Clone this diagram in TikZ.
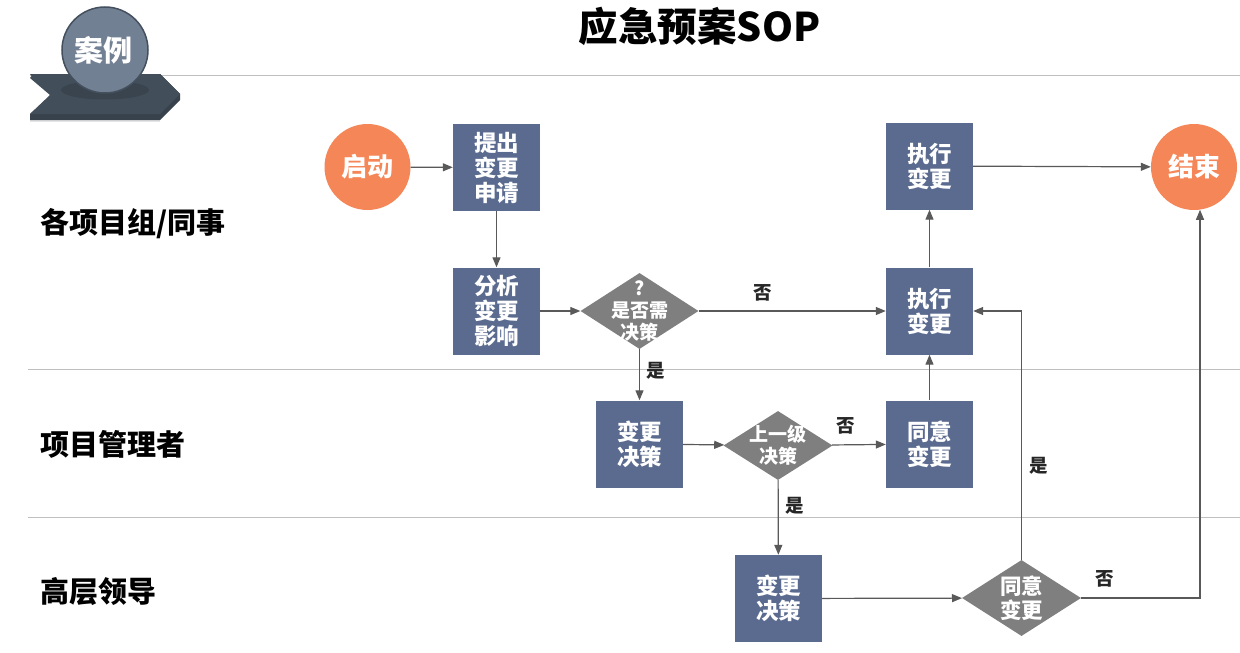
\documentclass[tikz,border=0pt]{standalone}
\usepackage{fontspec}
\setmainfont{Noto Sans CJK SC}
\usetikzlibrary{arrows.meta,shapes.geometric}
\definecolor{boxblue}{HTML}{5A6B8F}
\definecolor{decidegray}{HTML}{7F7F7F}
\definecolor{termorange}{HTML}{F58657}
\definecolor{flowgray}{HTML}{595959}
\definecolor{rulegray}{HTML}{BFBFBF}
\definecolor{badgetop}{HTML}{424E5A}
\definecolor{badgeside}{HTML}{38424D}
\definecolor{badgeshade}{HTML}{3A444F}
\definecolor{badgeball}{HTML}{728094}
\definecolor{badgeline}{HTML}{44505E}
\tikzset{
	stepbox/.style={fill=boxblue, text=white, font=\fontsize{22.5}{25}\selectfont\bfseries, align=center, minimum width=87pt, minimum height=87pt, inner sep=0pt},
	decidebox/.style={diamond, fill=decidegray, inner sep=0pt},
	decidetext/.style 2 args={text=white, font=\fontsize{#1}{#2}\selectfont\bfseries, align=center, inner sep=0pt},
	termnode/.style={circle, fill=termorange, text=white, font=\fontsize{26}{26}\selectfont\bfseries, minimum size=86pt, inner sep=0pt},
	lanetext/.style={anchor=west, font=\fontsize{29}{30}\selectfont\bfseries, inner sep=0pt},
	flowtext/.style={text=black!85, font=\fontsize{18.5}{18}\selectfont\bfseries, inner sep=0pt},
	flow/.style={draw=flowgray, line width=1.2pt, -{Triangle[length=10pt,width=8pt]}}
}
\begin{document}
\begin{tikzpicture}[x=1pt, y=-1pt]
	\useasboundingbox (0,0) rectangle (1240,653);
	% lane rules
	\foreach \y/\xstart in {75/30, 369/28, 517/28}
		\draw[rulegray, line width=0.9pt] (\xstart,\y) -- (1240,\y);
	% badge
	\fill[black!10] (30,120) rectangle (160,121.5);
	\fill[badgeside] (30,74) -- (50,94) -- (50,96) -- (30,114) -- (30,120) -- (160,120) -- (180,100) -- (180,94) -- (160,74) -- cycle;
	\fill[badgetop] (33,74) -- (160,74) -- (180,94) -- (160,114) -- (30,114) -- (50,95) -- (30,78) -- cycle;
	\fill[badgeshade] (105,90) ellipse [x radius=44, y radius=9.5];
	\node[circle, fill=badgeball, draw=badgeline, line width=1.5pt, text=white, font=\fontsize{29}{30}\selectfont\bfseries, minimum size=86pt, inner sep=0pt] (badge) at (105,50) {\kern-3pt案例};
	% title and lanes
	\node[font=\fontsize{39.5}{40}\selectfont\bfseries, inner sep=0pt] (title) at (699.5,26) {应急预案SOP};
	\node[lanetext] (lane1) at (40.5,224) {各项目组/同事};
	\node[lanetext] (lane2) at (40.5,444) {项目管理者};
	\node[lanetext] (lane3) at (40.5,592) {高层领导};
	% nodes
	\node[termnode] (start) at (367.5,167) {启动};
	\node[stepbox] (apply) at (496.5,167.5) {提出\\变更\\申请};
	\node[stepbox] (analyse) at (496.5,311) {分析\\变更\\影响};
	\node[decidebox, minimum width=118pt, minimum height=76pt, label={[decidetext={19}{22}]center:?\\是否需\\决策}] (need) at (639.5,311) {};
	\node[stepbox] (decide1) at (639.5,444) {变更\\决策};
	\node[decidebox, minimum width=109pt, minimum height=69pt, label={[decidetext={19}{22}]center:上一级\\决策}] (upper) at (778,445.5) {};
	\node[stepbox] (agree1) at (929.5,444) {同意\\变更};
	\node[stepbox] (exec2) at (929.5,311) {执行\\变更};
	\node[stepbox] (exec1) at (929.5,166) {执行\\变更};
	\node[termnode] (finish) at (1194,167) {结束};
	\node[stepbox] (decide2) at (778.5,598.5) {变更\\决策};
	\node[decidebox, minimum width=119pt, minimum height=76pt, label={[decidetext={21.5}{24}]center:同意\\变更}] (agree2) at (1021.5,598) {};
	% connectors
	\draw[flow] (start) -- (apply);
	\draw[flow] (apply) -- (analyse);
	\draw[flow] (analyse) -- (need);
	\draw[flow] (need) -- (exec2);
	\draw[flow] (need) -- (decide1);
	\draw[flow] (decide1) -- (upper);
	\draw[flow] (upper) -- (agree1);
	\draw[flow] (upper) -- (decide2);
	\draw[flow] (agree1) -- (exec2);
	\draw[flow] (exec2) -- (exec1);
	\draw[flow] (exec1) -- (finish);
	\draw[flow] (decide2) -- (agree2);
	\draw[flow] (agree2.north) |- (exec2.east);
	\draw[flow] (agree2.east) -| (finish.-82);
	% connector labels
	\node[flowtext] (no1) at (763,293) {否};
	\node[flowtext] (yes1) at (656,371) {是};
	\node[flowtext] (no2) at (846,426) {否};
	\node[flowtext] (yes2) at (795,506) {是};
	\node[flowtext] (yes3) at (1039,466) {是};
	\node[flowtext] (no3) at (1105,579) {否};
\end{tikzpicture}
\end{document}
